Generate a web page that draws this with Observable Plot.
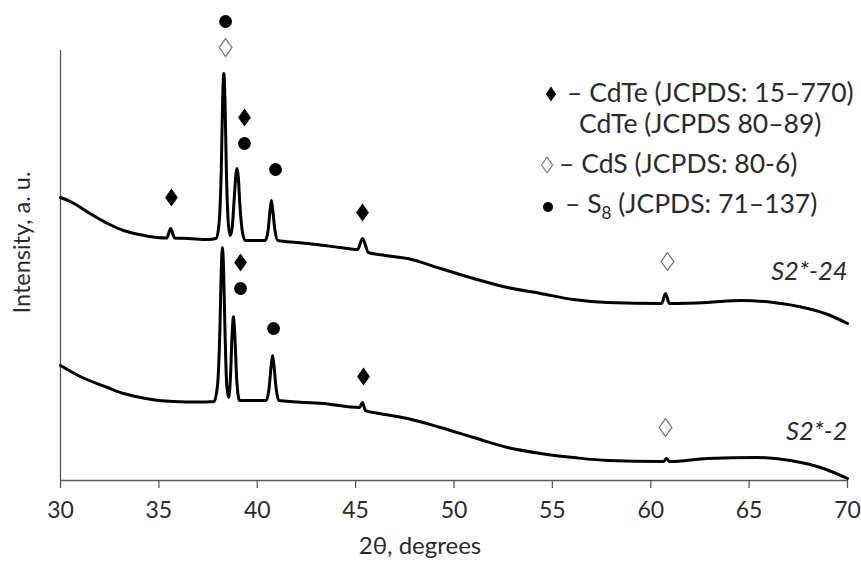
<!DOCTYPE html>
<html>
<head>
<meta charset="utf-8">
<script src="https://cdn.jsdelivr.net/npm/d3@7"></script>
<script src="https://cdn.jsdelivr.net/npm/@observablehq/plot@0.6"></script>
<style>
  body { margin: 0; background: #fff; }
  #chart { width: 861px; height: 569px; }
</style>
</head>
<body>
<div id="chart"></div>
<script>
// ---- data ----
const xTicks = [30, 35, 40, 45, 50, 55, 60, 65, 70];

// S2*-24 (upper pattern): 2θ and intensity (a.u.)
const upperX = [30, 30.5, 31.5, 32.4, 33.2, 34.0, 34.9, 35.4, 35.6, 35.8, 36.5, 37.5,
  37.9, 38.05, 38.17, 38.24, 38.30, 38.36, 38.43, 38.52, 38.62,
  38.72, 38.84, 38.92, 38.97, 39.03, 39.12, 39.25, 39.4,
  40.4, 40.55, 40.65, 40.72, 40.79, 40.9, 41.05,
  42, 43, 44.2, 45.1, 45.35, 45.65, 46.5, 47.64, 49.31, 51.0, 52.72, 54.4, 56.07, 57.8,
  60.55, 60.75, 60.95, 62.88, 64.56, 66.24, 67.97, 69.0, 70];
const upperY = [283, 279, 267, 257, 250, 246, 243, 242.5, 252, 242.5, 242, 241,
  242, 255, 310, 380, 407, 380, 310, 260, 245,
  252, 285, 307, 312, 305, 275, 248, 240,
  240, 250, 270, 280, 270, 250, 240,
  238, 236, 233, 231, 242, 228, 225, 222, 212, 202, 193, 187, 181, 178,
  177, 187, 177, 178, 180, 178, 172, 166, 157];

// S2*-2 (lower pattern)
const lowerX = [30, 31, 32.39, 33.2, 34.07, 35.0, 35.74, 37.0,
  37.8, 37.98, 38.1, 38.17, 38.23, 38.29, 38.36, 38.45, 38.55,
  38.63, 38.72, 38.79, 38.86, 38.96, 39.1,
  40.45, 40.6, 40.71, 40.78, 40.85, 40.96, 41.1,
  43.37, 45.2, 45.35, 45.5, 46.2, 47.64, 49.31, 51.0, 52.72, 54.4, 56.07, 57.8,
  60.65, 60.8, 60.95, 62.88, 65.42, 67.1, 68.78, 70];
const lowerY = [115, 104, 93, 87, 83, 80, 79, 78.5,
  79, 95, 150, 210, 233, 210, 150, 95, 83,
  100, 145, 164, 145, 100, 80,
  80, 92, 115, 125, 115, 92, 80,
  77, 73, 78, 70, 67, 62, 53, 43, 33, 27, 23, 20,
  19, 22, 19, 22, 23, 20, 12, 2];

// phase markers: 2θ, height (a.u.), phase
const markerX = [38.39, 38.39, 39.35, 39.35, 40.93, 35.64, 45.35, 60.85,
                 39.15, 39.15, 40.83, 45.40, 60.75];
const markerY = [459, 433, 363, 337, 311, 283, 268, 219,
                 218, 192, 152, 104, 53];
const markerPhase = ["S8", "CdS", "CdTe", "S8", "S8", "CdTe", "CdTe", "CdS",
                     "CdTe", "S8", "S8", "CdTe", "CdS"];

// sample labels
const sampleNames = ["S2*-24", "S2*-2"];
const sampleLabelX = [70, 70];
const sampleLabelY = [209, 49];

const legendLines = [
  {phase: "CdTe", text: "– CdTe (JCPDS: 15–770)"},
  {phase: null, text: "CdTe (JCPDS 80–89)"},
  {phase: "CdS", text: "– CdS (JCPDS: 80-6)"},
  {phase: "S8", text: "– S|8| (JCPDS: 71–137)"}
];

// ---- build tables ----
const upper = upperX.map((x, i) => ({x, y: upperY[i]}));
const lower = lowerX.map((x, i) => ({x, y: lowerY[i]}));
const markers = markerX.map((x, i) => ({x, y: markerY[i], phase: markerPhase[i]}));
const samples = sampleNames.map((name, i) => ({name, x: sampleLabelX[i], y: sampleLabelY[i]}));

// tall diamond symbol
const tallDiamond = {
  draw(context, size) {
    const r = Math.sqrt(size / Math.PI);
    const w = r, h = r * 1.42;
    context.moveTo(0, -h);
    context.lineTo(w, 0);
    context.lineTo(0, h);
    context.lineTo(-w, 0);
    context.closePath();
  }
};

const axisColor = "#595959";
const textColor = "#2b2b2b";
const fontStack = "Lato, 'Open Sans', sans-serif";

const chart = Plot.plot({
  width: 861,
  height: 569,
  marginLeft: 60,
  marginRight: 14,
  marginTop: 50,
  marginBottom: 89,
  x: {domain: [30, 70]},
  y: {domain: [0, 430], axis: null},
  style: {fontFamily: fontStack, fontSize: "23px", color: textColor, background: "#fff", overflow: "visible"},
  marks: [
    Plot.ruleX([30], {stroke: axisColor, strokeWidth: 1.3}),
    Plot.ruleY([0], {stroke: axisColor, strokeWidth: 1.3}),
    Plot.axisX({ticks: xTicks, tickSize: 8, tickPadding: 13, label: null, stroke: axisColor, fill: textColor, strokeWidth: 1.3, fontSize: 23}),
    Plot.text(["2θ, degrees"], {frameAnchor: "bottom", textAnchor: "middle", dy: 73, dx: -34, fill: textColor, fontSize: 24}),
    Plot.text(["Intensity, a. u."], {frameAnchor: "left", textAnchor: "middle", rotate: -90, dx: -38, dy: -23, fill: textColor, fontSize: 23.5}),
    Plot.line(upper, {x: "x", y: "y", curve: "monotone-x", stroke: "#000", strokeWidth: 3}),
    Plot.line(lower, {x: "x", y: "y", curve: "monotone-x", stroke: "#000", strokeWidth: 3}),
    Plot.dot(markers.filter(d => d.phase === "S8"), {x: "x", y: "y", r: 6.4, fill: "#000", stroke: "none"}),
    Plot.dot(markers.filter(d => d.phase === "CdTe"), {x: "x", y: "y", r: 6.4, symbol: tallDiamond, fill: "#000", stroke: "none"}),
    Plot.dot(markers.filter(d => d.phase === "CdS"), {x: "x", y: "y", r: 6.3, symbol: tallDiamond, fill: "none", stroke: "#777", strokeWidth: 1.3}),
    Plot.text(samples, {x: "x", y: "y", text: "name", textAnchor: "end", fontStyle: "italic", fontSize: 25.5, fill: textColor})
  ]
});

document.getElementById("chart").appendChild(chart);

// ---- legend (upper right) ----
const svg = d3.select(chart);
const lg = svg.append("g").attr("class", "legend")
  .attr("font-family", fontStack)
  .attr("font-size", 26.5)
  .attr("text-anchor", "start")
  .attr("fill", textColor);
const rows = [
  {sx: 551, sy: 94, tx: 567, ty: 102},
  {sx: null, sy: null, tx: 579, ty: 133},
  {sx: 547, sy: 165, tx: 559, ty: 173},
  {sx: 548, sy: 207, tx: 565, ty: 213}
];
legendLines.forEach((item, i) => {
  const p = rows[i];
  if (item.phase === "CdTe") {
    lg.append("path").attr("transform", `translate(${p.sx},${p.sy})`)
      .attr("d", d3.symbol(tallDiamond, Math.PI * 5.2 * 5.2)()).attr("fill", "#000");
  } else if (item.phase === "CdS") {
    lg.append("path").attr("transform", `translate(${p.sx},${p.sy})`)
      .attr("d", d3.symbol(tallDiamond, Math.PI * 5.5 * 5.5)()).attr("fill", "none")
      .attr("stroke", "#777").attr("stroke-width", 1.2);
  } else if (item.phase === "S8") {
    lg.append("circle").attr("cx", p.sx).attr("cy", p.sy).attr("r", 5).attr("fill", "#000");
  }
  const t = lg.append("text").attr("x", p.tx).attr("y", p.ty).attr("text-anchor", "start");
  const parts = item.text.split("|");
  parts.forEach((part, j) => {
    const ts = t.append("tspan").text(part);
    if (j === 1) ts.attr("font-size", 17).attr("dy", 6);
    if (j === 2) ts.attr("dy", -6);
  });
});
</script>
</body>
</html>
